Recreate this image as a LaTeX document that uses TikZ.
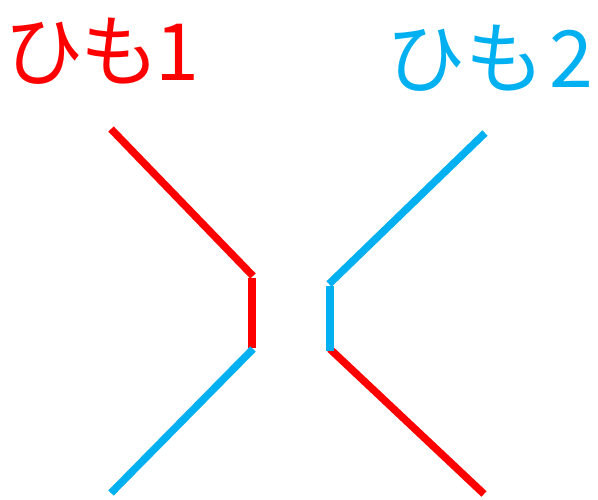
\documentclass[tikz,border=0pt]{standalone}
\usepackage{fontspec}
\usepackage{xcolor}
\usepackage{tikz}
\newfontfamily\jpfont[RawFeature=+palt]{Noto Sans CJK JP}
\definecolor{himored}{RGB}{255,0,0}
\definecolor{himoblue}{RGB}{0,176,240}

\begin{document}
\begin{tikzpicture}[x=1pt, y=-1pt,
    himo/.style={line width=7.5pt, line cap=butt},
    label/.style={inner sep=0pt, anchor=base west, font=\jpfont\fontsize{79}{79}\selectfont}]
    \useasboundingbox (0,0) rectangle (598,499);
    % labels
    \node[label, text=himored] (l1) at (6,80) {ひも1};
    \node[label, text=himoblue] (l2) at (388,87) {ひ\kern3ptも\kern9pt2};
    % string 1 (red)
    \coordinate (r1) at (111,129);
    \coordinate (r2) at (253,276);
    \coordinate (r3) at (252,348);
    \coordinate (r4) at (330,349);
    \coordinate (r5) at (484,494);
    % string 2 (blue)
    \coordinate (b1) at (485,133);
    \coordinate (b2) at (329,284);
    \coordinate (b3) at (330,351);
    \coordinate (b4) at (253,349);
    \coordinate (b5) at (111,493);
    \draw[himo, himored] (r1) -- (r2);
    \draw[himo, himored] (252,278) -- (r3);
    \draw[himo, himored] (r4) -- (r5);
    \draw[himo, himoblue] (b1) -- (b2);
    \draw[himo, himoblue] (330,286) -- (b3);
    \draw[himo, himoblue] (b4) -- (b5);
\end{tikzpicture}
\end{document}
